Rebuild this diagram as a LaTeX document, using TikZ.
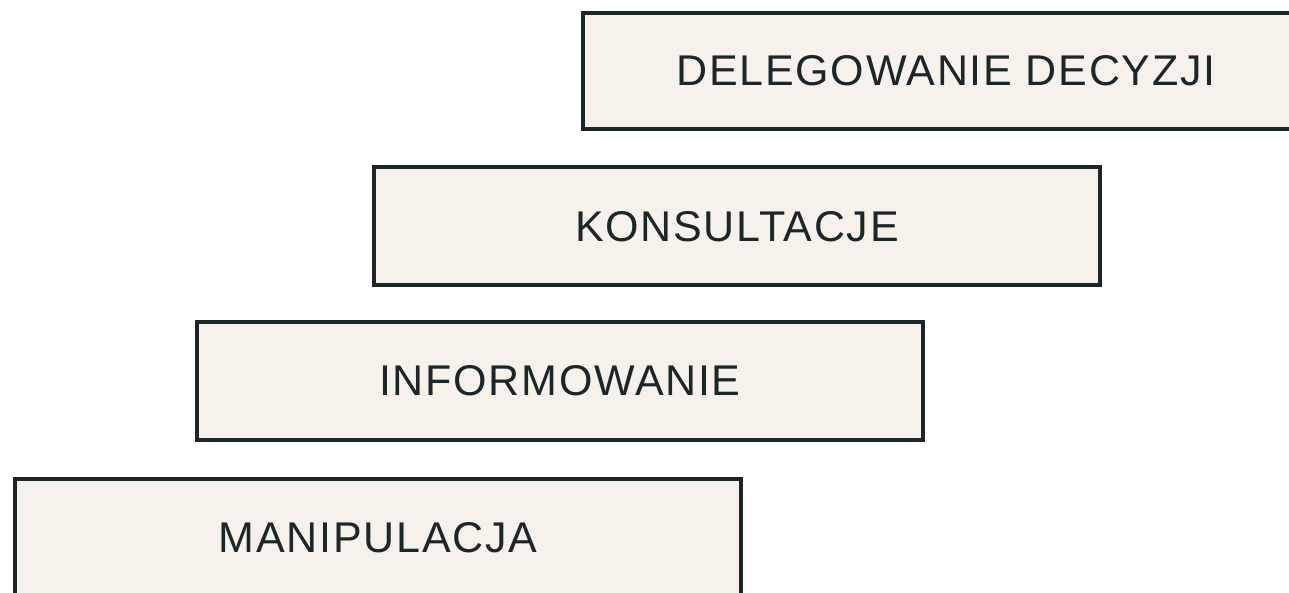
\documentclass[tikz,border=0pt]{standalone}
\usepackage{fontspec}
\setmainfont{Liberation Sans}[LetterSpace=4]
\usepackage{xcolor}
\usepackage{tikz}
\definecolor{tierfill}{HTML}{F6F1EB}
\definecolor{tierline}{HTML}{1C2629}

\begin{document}
\begin{tikzpicture}[x=1pt, y=1pt,
  tier/.style={draw=tierline, fill=tierfill, line width=4pt, rectangle,
    minimum width=726pt, minimum height=118pt, inner sep=0pt,
    text=tierline, font=\fontsize{43}{50}\selectfont}]
  \useasboundingbox (0,0) rectangle (1289,593);

  % Steps, from the lowest one up
  \node[tier] (manipulacja) at (378, 55) {MANIPULACJA};
  \node[tier] (informowanie) at (560, 212) {INFORMOWANIE};
  \node[tier] (konsultacje) at (737, 366.5) {KONSULTACJE};
  \node[tier, minimum height=116pt] (delegowanie) at (946, 522) {DELEGOWANIE DECYZJI};
\end{tikzpicture}
\end{document}
